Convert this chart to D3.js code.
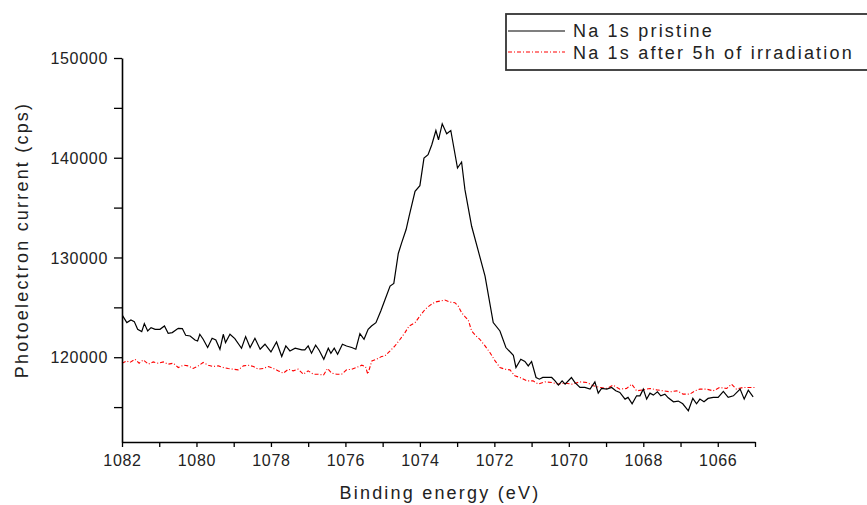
<!DOCTYPE html>
<html><head><meta charset="utf-8">
<script src="https://cdn.jsdelivr.net/npm/d3@7"></script>
<style>
html,body{margin:0;padding:0;background:#fff;}
svg{display:block;font-family:"Liberation Sans",Arial,sans-serif;}
</style></head>
<body><svg id="c" width="867" height="505"></svg>
<script>
const seriesNames = ["Na 1s pristine", "Na 1s after 5h of irradiation"];
const xTickValues = [1082,1081,1080,1079,1078,1077,1076,1075,1074,1073,1072,1071,1070,1069,1068,1067,1066,1065];
const xTickLabels = ["1082","1080","1078","1076","1074","1072","1070","1068","1066"];
const yTickValues = [115000,120000,125000,130000,135000,140000,145000,150000];
const yTickLabels = ["120000","130000","140000","150000"];

const pristineEnergy = [1081.99,1081.87,1081.76,1081.67,1081.58,1081.47,1081.40,1081.31,1081.22,1081.11,1080.98,1080.86,1080.76,1080.65,1080.49,1080.38,1080.29,1080.17,1080.04,1079.97,1079.91,1079.82,1079.70,1079.58,1079.48,1079.37,1079.28,1079.22,1079.10,1078.97,1078.79,1078.68,1078.56,1078.43,1078.29,1078.16,1078.00,1077.85,1077.71,1077.60,1077.49,1077.35,1077.17,1077.09,1077.00,1076.91,1076.80,1076.71,1076.58,1076.46,1076.39,1076.30,1076.21,1076.08,1075.97,1075.83,1075.72,1075.61,1075.50,1075.39,1075.30,1075.18,1075.05,1074.94,1074.80,1074.70,1074.58,1074.49,1074.37,1074.29,1074.13,1074.00,1073.89,1073.78,1073.68,1073.57,1073.50,1073.40,1073.28,1073.17,1072.99,1072.88,1072.79,1072.61,1072.43,1072.25,1072.03,1071.85,1071.69,1071.49,1071.42,1071.29,1071.18,1071.09,1071.00,1070.88,1070.79,1070.70,1070.46,1070.37,1070.28,1070.18,1070.10,1069.93,1069.84,1069.70,1069.57,1069.43,1069.30,1069.21,1069.12,1068.98,1068.85,1068.74,1068.63,1068.49,1068.41,1068.30,1068.18,1068.09,1068.00,1067.91,1067.82,1067.73,1067.62,1067.53,1067.42,1067.33,1067.19,1067.06,1066.94,1066.79,1066.67,1066.57,1066.48,1066.37,1066.26,1066.12,1065.99,1065.85,1065.72,1065.58,1065.40,1065.29,1065.18,1065.05];
const pristineCps = [124200,123470,123730,123570,122800,122570,123370,122630,122970,122800,122800,123130,122400,122470,122900,122870,122200,122130,121730,121630,122300,121800,120970,121900,121730,120800,122300,121470,122300,121870,120900,122070,120970,121900,120800,121300,120530,121530,120070,121130,120630,120900,120730,120730,121130,120400,121200,120730,119800,120900,120400,120900,120300,121300,121130,120970,120800,122370,121800,122800,123130,123470,124630,125730,127130,127400,130400,131470,132800,134130,136630,137200,139970,140300,141300,142730,141800,143400,142400,142730,138970,139570,136800,133130,130630,128130,123470,122630,120970,120200,118970,119800,119570,119130,119570,117970,117800,117970,117970,117630,117200,117630,117300,117970,117470,116970,116970,116800,117530,116400,116870,116800,116970,116630,116470,115800,115970,115330,116130,116130,116800,115800,116400,116200,116530,116130,116300,115930,115530,115600,115330,114630,115870,115330,115800,115530,115870,115970,115970,116570,115970,116130,116800,115800,116700,116030];

const irradiatedEnergy = [1082.00,1081.87,1081.79,1081.65,1081.54,1081.43,1081.29,1081.16,1081.03,1080.89,1080.76,1080.62,1080.49,1080.35,1080.22,1080.09,1079.95,1079.82,1079.68,1079.55,1079.41,1079.28,1079.15,1079.01,1078.88,1078.74,1078.61,1078.47,1078.34,1078.21,1078.07,1077.94,1077.80,1077.67,1077.53,1077.40,1077.27,1077.13,1077.00,1076.86,1076.73,1076.59,1076.48,1076.37,1076.23,1076.10,1075.97,1075.83,1075.70,1075.56,1075.46,1075.40,1075.29,1075.16,1075.03,1074.94,1074.80,1074.67,1074.53,1074.40,1074.29,1074.13,1074.00,1073.86,1073.73,1073.59,1073.46,1073.33,1073.19,1073.06,1072.97,1072.88,1072.79,1072.70,1072.61,1072.49,1072.39,1072.25,1072.12,1071.98,1071.85,1071.72,1071.58,1071.45,1071.31,1071.13,1070.96,1070.82,1070.64,1070.46,1070.28,1070.10,1069.92,1069.70,1069.52,1069.34,1069.16,1068.98,1068.81,1068.63,1068.45,1068.31,1068.18,1068.00,1067.82,1067.64,1067.46,1067.28,1067.10,1066.93,1066.75,1066.61,1066.48,1066.30,1066.12,1065.95,1065.76,1065.63,1065.50,1065.32,1065.14,1065.00];
const irradiatedCps = [119400,119630,119470,119800,119400,119730,119300,119530,119400,119530,119300,119400,118970,119200,119130,118870,119130,119470,119200,119070,119130,118970,118870,118800,118730,119130,119200,119070,118800,118870,119070,118870,118630,118400,118800,118630,118800,118300,118630,118300,118300,118200,118870,118400,118300,118300,118730,118800,118970,119200,119070,118300,119630,119800,120070,120130,120630,121130,121800,122470,123130,123470,124130,124800,125200,125530,125630,125730,125530,125470,125130,124470,124070,123730,122630,122130,121800,121130,120470,119630,118970,118800,118730,118130,117970,117630,117630,117300,117530,117470,117300,117400,117300,117530,117470,117130,116970,116870,117200,116800,116870,117300,116630,116730,116870,116730,116630,116530,116630,116300,116300,116630,116800,116800,116630,116970,116870,117300,116800,116970,116970,116970];

const svg = d3.select("#c");
const x = d3.scaleLinear().domain([1082, 1065]).range([122, 755]);
const y = d3.scaleLinear().domain([111500, 150000]).range([442, 58]);

// lines
const pristine = pristineEnergy.map((e,i)=>[e, pristineCps[i]]);
const irradiated = irradiatedEnergy.map((e,i)=>[e, irradiatedCps[i]]);
const line = d3.line().x(d=>x(d[0])).y(d=>y(d[1]));
svg.append("path").datum(irradiated).attr("d", line)
  .attr("fill","none").attr("stroke","#ff0000").attr("stroke-width",1.1)
  .attr("stroke-dasharray","4,2,1,2");
svg.append("path").datum(pristine).attr("d", line)
  .attr("fill","none").attr("stroke","#000").attr("stroke-width",1.2);

// axes
const fmtX = d => xTickLabels.includes(String(d)) ? String(d) : "";
const xAxis = svg.append("g").attr("transform","translate(0,442)")
  .call(d3.axisBottom(x).tickValues(xTickValues).tickFormat(fmtX).tickSize(5).tickSizeOuter(0));
const fmtY = d => yTickLabels.includes(String(d)) ? String(d) : "";
const yAxis = svg.append("g").attr("transform","translate(122,0)")
  .call(d3.axisLeft(y).tickValues(yTickValues).tickFormat(fmtY).tickSize(8).tickSizeOuter(0));
[xAxis,yAxis].forEach(g=>{
  g.select(".domain").attr("stroke","#000").attr("stroke-width",1.6);
  g.selectAll(".tick line").attr("stroke","#000").attr("stroke-width",1.3);
  g.selectAll("text").attr("fill","#222").style("font-size","16px")
   .style("font-family",'"Liberation Sans",Arial,sans-serif').style("letter-spacing","0.7px");
});
xAxis.selectAll("text").attr("dy","0").attr("y",24);
yAxis.selectAll("text").attr("x",-14).attr("dy","0.36em");

// axis titles
svg.append("text").attr("x",440).attr("y",499).attr("text-anchor","middle")
  .style("font-size","18px").style("letter-spacing","2.2px").attr("fill","#222")
  .text("Binding energy (eV)");
svg.append("text").attr("transform","translate(28,240) rotate(-90)").attr("text-anchor","middle")
  .style("font-size","18px").style("letter-spacing","2.2px").attr("fill","#222")
  .text("Photoelectron current (cps)");

// legend
const lg = svg.append("g");
lg.append("rect").attr("x",506).attr("y",14).attr("width",370).attr("height",56)
  .attr("fill","#fff").attr("stroke","#333").attr("stroke-width",1.8);
const lgY = [31, 52];
lg.append("line").attr("x1",508).attr("x2",565).attr("y1",lgY[0]).attr("y2",lgY[0])
  .attr("stroke","#000").attr("stroke-width",1.2);
lg.append("line").attr("x1",508).attr("x2",565).attr("y1",lgY[1]).attr("y2",lgY[1])
  .attr("stroke","#ff0000").attr("stroke-width",1.1).attr("stroke-dasharray","4,2,1,2");
seriesNames.forEach((n,i)=>{
  lg.append("text").attr("x",573).attr("y",[37,59][i]).style("font-size","18px")
    .style("letter-spacing","2.2px").attr("fill","#222").text(n);
});
</script></body></html>
